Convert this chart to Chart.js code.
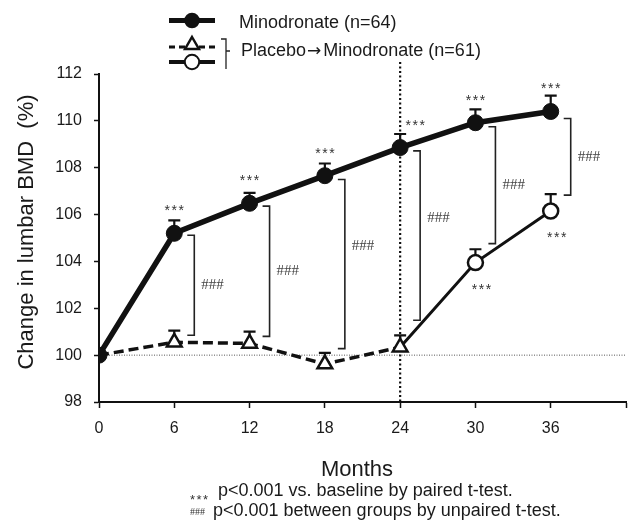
<!DOCTYPE html>
<html>
<head>
<meta charset="utf-8">
<script src="https://cdn.jsdelivr.net/npm/chart.js@4.4.1/dist/chart.umd.min.js"></script>
<style>
  html, body { margin: 0; padding: 0; background: #fff; }
</style>
</head>
<body>
<canvas id="bmdChart" width="636" height="526"></canvas>
<script>
// data
var months = [0, 6, 12, 18, 24, 30, 36];
var minoMean = [100, 105.2, 106.48, 107.66, 108.86, 109.92, 110.4];
var minoSE = [0, 0.55, 0.45, 0.52, 0.58, 0.57, 0.68];
var placMean = [100, 100.55, 100.5, 99.62, 100.34, 103.95, 106.15];
var placSE = [0, 0.5, 0.5, 0.48, 0.5, 0.57, 0.72];
var minoStars = [false, true, true, true, true, true, true];
var placStars = [false, false, false, false, false, true, true];
// between-group brackets (### p<0.001), in % units
var groupHigh = [null, 105.12, 106.36, 107.5, 108.72, 109.75, 110.1];
var groupLow = [null, 100.85, 100.8, 100.28, 101.49, 104.76, 106.83];
var switchMonth = 24;

var FONT = "'Liberation Sans', Arial, Helvetica, sans-serif";
var INK = '#111';

function toPoints(vals) {
  return months.map(function (m, i) { return { x: m, y: vals[i] }; });
}

var placStyle = months.map(function (m) { return m <= switchMonth ? 'triangle' : 'circle'; });
var placRadius = months.map(function (m) { return m === 0 ? 0 : (m <= switchMonth ? 8.5 : 7.5); });

function stars(ctx, cx, cy) {
  ctx.font = '14px ' + FONT;
  ctx.textAlign = 'center';
  ctx.textBaseline = 'alphabetic';
  for (var k = -1; k <= 1; k++) ctx.fillText('*', cx + k * 7, cy + 8);
}

function triangle(ctx, x, y, r) {
  ctx.beginPath();
  ctx.moveTo(x, y - r);
  ctx.lineTo(x + r * 0.866, y + r * 0.5);
  ctx.lineTo(x - r * 0.866, y + r * 0.5);
  ctx.closePath();
}

var decor = {
  id: 'decor',
  beforeDatasetsDraw: function (chart) {
    var ctx = chart.ctx, xs = chart.scales.x, ys = chart.scales.y, a = chart.chartArea;
    ctx.save();
    // reference line at baseline 100
    var y100 = ys.getPixelForValue(100);
    ctx.strokeStyle = '#555';
    ctx.lineWidth = 1;
    ctx.setLineDash([1, 1.5]);
    ctx.beginPath(); ctx.moveTo(a.left, y100); ctx.lineTo(a.right, y100); ctx.stroke();
    // switch line at 24 months
    var xsw = xs.getPixelForValue(switchMonth);
    ctx.strokeStyle = INK;
    ctx.lineWidth = 2.2;
    ctx.setLineDash([2, 2.5]);
    ctx.beginPath(); ctx.moveTo(xsw, a.top - 12); ctx.lineTo(xsw, a.bottom); ctx.stroke();
    ctx.setLineDash([]);
    // error bars (upper half)
    ctx.lineWidth = 2.2;
    [[minoMean, minoSE], [placMean, placSE]].forEach(function (s) {
      months.forEach(function (m, i) {
        if (!s[1][i]) return;
        var px = xs.getPixelForValue(m);
        var p0 = ys.getPixelForValue(s[0][i]);
        var p1 = ys.getPixelForValue(s[0][i] + s[1][i]);
        ctx.beginPath();
        ctx.moveTo(px, p0); ctx.lineTo(px, p1);
        ctx.moveTo(px - 6, p1); ctx.lineTo(px + 6, p1);
        ctx.stroke();
      });
    });
    ctx.restore();
  },
  afterDatasetsDraw: function (chart) {
    var ctx = chart.ctx, xs = chart.scales.x, ys = chart.scales.y;
    ctx.save();
    ctx.fillStyle = '#333';
    months.forEach(function (m, i) {
      var px = xs.getPixelForValue(m);
      if (minoStars[i]) {
        var off = m === switchMonth ? 15 : 0;
        stars(ctx, px + off, ys.getPixelForValue(minoMean[i]) - 26);
      }
      if (placStars[i]) {
        stars(ctx, px + 6, ys.getPixelForValue(placMean[i]) + 23);
      }
      if (groupHigh[i] !== null) {
        var bx = px + 20;
        var t = ys.getPixelForValue(groupHigh[i]);
        var b = ys.getPixelForValue(groupLow[i]);
        ctx.strokeStyle = '#222';
        ctx.lineWidth = 1.6;
        ctx.beginPath();
        ctx.moveTo(bx - 7, t); ctx.lineTo(bx, t); ctx.lineTo(bx, b); ctx.lineTo(bx - 7, b);
        ctx.stroke();
        ctx.font = "15px 'Liberation Serif', 'Times New Roman', serif";
        ctx.textAlign = 'left';
        ctx.textBaseline = 'middle';
        ctx.fillStyle = '#444';
        // label sits a little above centre on the long brackets
        var ly = (t + b) / 2 - Math.max(0, (b - t) - 140) * 0.6;
        ctx.fillText('###', bx + 7, ly);
        ctx.fillStyle = '#333';
      }
    });
    ctx.restore();
  },
  afterDraw: function (chart) {
    var ctx = chart.ctx;
    ctx.save();
    ctx.fillStyle = '#1a1a1a';
    // y title
    ctx.save();
    ctx.translate(33, 232);
    ctx.rotate(-Math.PI / 2);
    ctx.font = '22px ' + FONT;
    ctx.textAlign = 'center';
    ctx.textBaseline = 'alphabetic';
    ctx.fillText('Change in lumbar BMD  (%)', 0, 0);
    ctx.restore();
    // x title
    ctx.font = '22px ' + FONT;
    ctx.textAlign = 'center';
    ctx.textBaseline = 'alphabetic';
    ctx.fillText('Months', 357, 476);
    // footnotes
    ctx.textAlign = 'left';
    ctx.fillStyle = '#333';
    for (var k = 0; k < 3; k++) {
      ctx.font = '13px ' + FONT;
      ctx.fillText('*', 190 + k * 6.5, 504);
    }
    ctx.font = "10px 'Liberation Serif', serif";
    ctx.fillText('###', 190, 515);
    ctx.fillStyle = '#1a1a1a';
    ctx.font = '18px ' + FONT;
    ctx.fillText('p<0.001 vs. baseline by paired t-test.', 218, 496);
    ctx.fillText('p<0.001 between groups by unpaired t-test.', 213, 516);

    // legend
    ctx.strokeStyle = INK;
    ctx.fillStyle = INK;
    ctx.lineWidth = 5;
    ctx.beginPath(); ctx.moveTo(169, 20.5); ctx.lineTo(215, 20.5); ctx.stroke();
    ctx.beginPath(); ctx.arc(192, 20.5, 7.8, 0, Math.PI * 2); ctx.fill();

    ctx.lineWidth = 3;
    ctx.setLineDash([6, 4]);
    ctx.beginPath(); ctx.moveTo(169, 47); ctx.lineTo(215, 47); ctx.stroke();
    ctx.setLineDash([]);
    ctx.lineWidth = 2.5;
    triangle(ctx, 192, 45, 8);
    ctx.fillStyle = '#fff'; ctx.fill(); ctx.stroke();

    ctx.lineWidth = 4;
    ctx.beginPath(); ctx.moveTo(169, 62); ctx.lineTo(215, 62); ctx.stroke();
    ctx.lineWidth = 2;
    ctx.beginPath(); ctx.arc(192, 62, 7.2, 0, Math.PI * 2);
    ctx.fillStyle = '#fff'; ctx.fill(); ctx.stroke();

    ctx.lineWidth = 1.3;
    ctx.strokeStyle = '#222';
    ctx.beginPath();
    ctx.moveTo(221, 39); ctx.lineTo(226, 39); ctx.lineTo(226, 69);
    ctx.moveTo(226, 51); ctx.lineTo(230, 51);
    ctx.stroke();

    ctx.fillStyle = '#1a1a1a';
    ctx.font = '18px ' + FONT;
    ctx.textAlign = 'left';
    ctx.textBaseline = 'alphabetic';
    ctx.fillText('Minodronate (n=64)', 239, 28);
    var tx = 241;
    ctx.fillText('Placebo', tx, 56);
    tx += ctx.measureText('Placebo').width + 1;
    ctx.font = "17px 'DejaVu Sans', sans-serif";
    ctx.fillText('\u2192', tx, 56);
    tx += ctx.measureText('\u2192').width + 2;
    ctx.font = '18px ' + FONT;
    ctx.fillText('Minodronate (n=61)', tx, 56);
    ctx.restore();
  }
};

var config = {
  type: 'line',
  data: {
    datasets: [
      {
        label: 'Minodronate (n=64)',
        data: toPoints(minoMean),
        borderColor: INK,
        borderWidth: 5.5,
        pointRadius: 8,
        pointStyle: 'circle',
        pointBackgroundColor: INK,
        pointBorderColor: INK,
        pointBorderWidth: 1,
        tension: 0
      },
      {
        label: 'Placebo\u2192Minodronate (n=61)',
        data: toPoints(placMean),
        borderColor: INK,
        borderWidth: 3,
        pointStyle: placStyle,
        pointRadius: placRadius,
        pointBackgroundColor: '#fff',
        pointBorderColor: INK,
        pointBorderWidth: 2.5,
        tension: 0,
        segment: {
          borderDash: function (c) { return c.p1.parsed.x <= switchMonth ? [10, 5] : undefined; },
          borderWidth: function (c) { return c.p1.parsed.x <= switchMonth ? 3.5 : 3; }
        }
      }
    ]
  },
  options: {
    responsive: false,
    animation: false,
    layout: { padding: { top: 74, right: 6, left: 0, bottom: 0 } },
    plugins: {
      legend: { display: false },
      tooltip: { enabled: false }
    },
    scales: {
      x: {
        type: 'linear',
        min: 0,
        max: 42,
        ticks: {
          stepSize: 6,
          color: '#1a1a1a',
          padding: 11,
          font: { family: FONT, size: 16 },
          callback: function (v) { return v > 36 ? '' : v; }
        },
        grid: { drawOnChartArea: false, drawTicks: true, tickLength: 6, tickWidth: 1.5, tickColor: INK },
        border: { color: INK, width: 2 },
        afterFit: function (s) { s.height = 124; s.paddingLeft = 0; s.paddingRight = 0; }
      },
      y: {
        min: 98,
        max: 112,
        ticks: {
          stepSize: 2,
          color: '#1a1a1a',
          padding: 12,
          font: { family: FONT, size: 16 }
        },
        grid: { drawOnChartArea: false, drawTicks: true, tickLength: 5, tickWidth: 1.5, tickColor: INK },
        border: { color: INK, width: 2 },
        afterFit: function (s) { s.width = 99; s.paddingTop = 0; s.paddingBottom = 0; }
      }
    }
  },
  plugins: [decor]
};

var bmdChart = new Chart(document.getElementById('bmdChart'), config);
</script>
</body>
</html>
